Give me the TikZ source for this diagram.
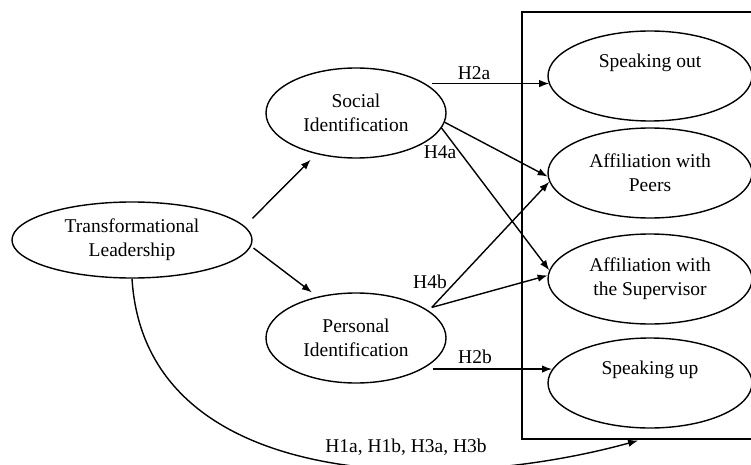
\documentclass[tikz,border=0pt]{standalone}
\usepackage{fontspec}
\setmainfont{Liberation Serif}
\newfontfamily\lserif{Liberation Serif}
\usetikzlibrary{shapes.geometric,arrows.meta}
\begin{document}
\begin{tikzpicture}[x=1pt,y=-1pt,
  every node/.style={font=\lserif\fontsize{19.5}{24}\selectfont},
  oval/.style={draw, ellipse, line width=1.4pt, inner sep=0pt, align=center},
  lab/.style={inner sep=0pt},
  arr/.style={line width=1.4pt, -{Latex[length=10pt,width=7.5pt]}}]
\useasboundingbox (0,0) rectangle (751,465);
% group box
\node[draw, line width=1.5pt, minimum width=238pt, minimum height=427pt, inner sep=0pt] (grp) at (641,225.5) {};
% left nodes
\node[oval, minimum width=240pt, minimum height=76pt] (tl) at (132,240) {Transformational\\Leadership};
\node[oval, minimum width=180pt, minimum height=90pt] (si) at (356,113) {Social\\Identification};
\node[oval, minimum width=180pt, minimum height=90pt] (pi) at (356,338) {Personal\\Identification};
% right nodes
\node[oval, minimum width=204pt, minimum height=90pt] (so) at (650,76) {Speaking out\\\strut};
\node[oval, minimum width=204pt, minimum height=90pt] (pe) at (650,173) {Affiliation with\\Peers};
\node[oval, minimum width=204pt, minimum height=90pt] (sup) at (650,279) {Affiliation with\\the Supervisor};
\node[oval, minimum width=204pt, minimum height=90pt] (su) at (650,383) {Speaking up\\\strut};
% labels
\node[lab] (h2a) at (474,73) {H2a};
\node[lab] (h4a) at (440,152) {H4a};
\node[lab] (h4b) at (430,282) {H4b};
\node[lab] (h2b) at (475,357) {H2b};
\node[lab] (h13) at (406,447) {H1a, H1b, H3a, H3b};
% connectors
\draw[arr, shorten <=11pt, shorten >=8pt] (tl.7) -- (si.226);
\draw[arr, shorten <=3pt, shorten >=7pt] (tl.-3) -- (pi.133);
\draw[arr, shorten <=7pt] (si.23) -- (si.23 -| so.185);
\draw[arr, shorten <=10pt] (pi.-25) -- (pi.-25 -| su.172);
\draw[arr] (si.-6) -- (pe.182);
\draw[arr] (si.-10) -- (sup.175);
\coordinate (pij) at ([shift={(5pt,2pt)}]pi.22);
\draw[arr] (pij) -- (pe.185);
\draw[arr] (pij) -- (sup.178);
\draw[arr, shorten >=3pt] (tl.south) .. controls (145,490) and (440,495) .. (grp.south);
\end{tikzpicture}
\end{document}
